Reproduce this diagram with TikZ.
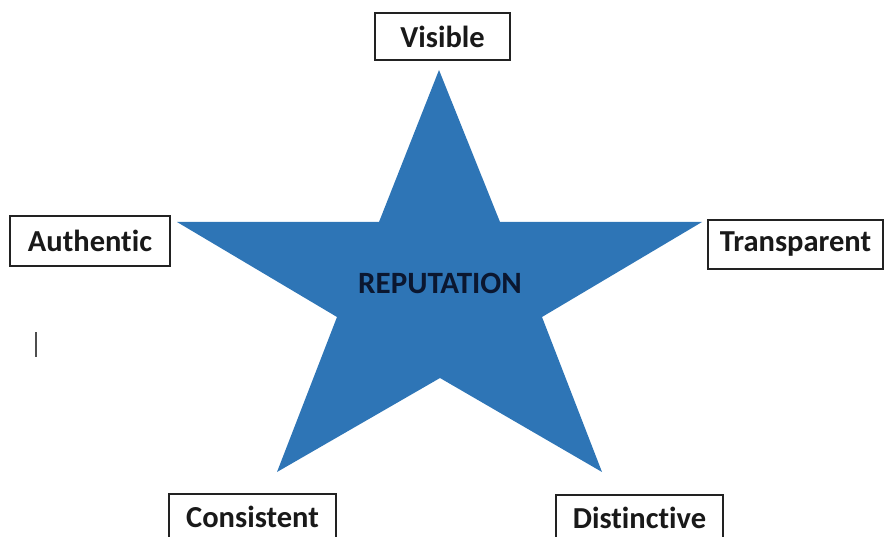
\documentclass[tikz,border=0pt]{standalone}
\usepackage{fontspec}
\setmainfont{Carlito}[Ligatures=NoCommon]
\definecolor{starblue}{HTML}{2E75B6}
\definecolor{boxline}{HTML}{222222}
\definecolor{startext}{HTML}{0B1730}
\begin{document}
\begin{tikzpicture}[x=1pt,y=-1pt,
  label box/.style={draw=boxline, line width=1.2pt, fill=white, inner sep=0pt,
    font=\fontsize{30.5}{33}\selectfont\bfseries, text=black!90}]
\useasboundingbox (0,0) rectangle (885,537);
\clip (0,0) rectangle (885,537);
% star
\fill[starblue] (439,70) -- (500,222) -- (702,222) -- (542,317) -- (602,472)
  -- (440,378) -- (277,472) -- (337,317) -- (177,222) -- (379,222) -- cycle;
\node[font=\fontsize{31}{34}\selectfont\bfseries, text=startext] (rep) at (440,283) {REPUTATION};
% boxes
\node[label box, minimum width=135pt, minimum height=47pt] (visible) at (442.5,36.5) {Visible};
\node[label box, minimum width=160pt, minimum height=50pt] (authentic) at (90,241) {Authentic};
\node[label box, minimum width=175pt, minimum height=49pt] (transparent) at (795.5,244.5) {Transparent};
\node[label box, minimum width=167pt, minimum height=46pt] (consistent) at (252.5,517) {Consistent};
\node[label box, minimum width=167pt, minimum height=46pt] (distinctive) at (639.5,518) {Distinctive};
% text cursor mark
\draw[boxline!80, line width=1.3pt] (36,332) -- (36,357);
\end{tikzpicture}
\end{document}
